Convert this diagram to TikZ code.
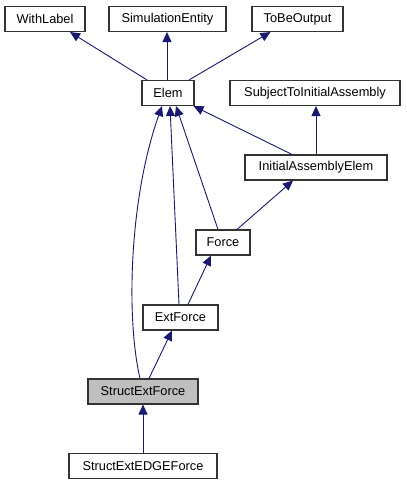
\documentclass[tikz,border=0pt]{standalone}
\usepackage{fontspec}
\setmainfont{Liberation Sans}
\usetikzlibrary{arrows.meta}

\definecolor{midnightblue}{RGB}{25,25,112}
\definecolor{nodegray}{RGB}{191,191,191}

\begin{document}
\begin{tikzpicture}[
  x=1pt, y=-1pt,
  font=\fontsize{12.8}{14}\selectfont,
  % Node styles
  cls/.style={rectangle, draw=black!80, line width=1.1pt, fill=white, minimum height=25pt, inner sep=0pt},
  focus/.style={cls, fill=nodegray},
  % Edge styles
  inherit/.style={draw=midnightblue, line width=0.9pt, -{Triangle[length=10pt, width=9pt, fill=midnightblue]}}
]

\useasboundingbox (0,0) rectangle (407,485);

% ------------------------------------------------------------
% Classes (rows top to bottom)
% ------------------------------------------------------------
\node[cls, minimum width=80pt]  (n_withlabel) at (45,19)    {WithLabel};
\node[cls, minimum width=117pt] (n_simentity) at (167.5,19) {SimulationEntity};
\node[cls, minimum width=91pt]  (n_output)    at (297.5,19) {ToBeOutput};

\node[cls, minimum width=52pt]  (n_elem)      at (168,93)   {Elem};
\node[cls, minimum width=170pt] (n_subject)   at (315,93)   {SubjectToInitialAssembly};

\node[cls, minimum width=142pt] (n_initelem)  at (316,167.5) {InitialAssemblyElem};

\node[cls, minimum width=54pt]  (n_force)     at (223,242.5) {Force};

\node[cls, minimum width=75pt]  (n_extforce)  at (180.5,317.5) {ExtForce};

\node[focus, minimum width=110pt] (n_structext) at (143,391.5) {StructExtForce};

\node[cls, minimum width=148pt] (n_edgeforce) at (143,466)   {StructExtEDGEForce};

% ------------------------------------------------------------
% Inheritance (child -> parent)
% ------------------------------------------------------------
% Elem
\draw[inherit] ([xshift=-21pt]n_elem.north) -- ([xshift=25pt]n_withlabel.south);
\draw[inherit] ([xshift=-1pt]n_elem.north)  -- ([xshift=-0.5pt]n_simentity.south);
\draw[inherit] ([xshift=21pt]n_elem.north)  -- ([xshift=-27pt]n_output.south);

% InitialAssemblyElem
\draw[inherit] ([xshift=-24pt]n_initelem.north) -- ([xshift=-1pt]n_elem.south east);
\draw[inherit] (n_initelem.north) -- ([xshift=1pt]n_subject.south);

% Force
\draw[inherit] ([xshift=-5pt]n_force.north) -- ([xshift=8pt]n_elem.south);
\draw[inherit] ([xshift=14pt]n_force.north) -- ([xshift=-23pt]n_initelem.south);

% ExtForce
\draw[inherit] ([xshift=-1.5pt]n_extforce.north) -- ([xshift=2pt]n_elem.south);
\draw[inherit] ([xshift=7.5pt]n_extforce.north) -- ([xshift=-12pt]n_force.south);

% StructExtForce
\draw[inherit] ([xshift=-3pt]n_structext.north) .. controls +(-14,-60) and +(-33,93) .. ([xshift=-6pt]n_elem.south);
\draw[inherit] ([xshift=6pt]n_structext.north) -- ([xshift=-8.5pt]n_extforce.south);

% StructExtEDGEForce
\draw[inherit] (n_edgeforce.north) -- (n_structext.south);

\end{tikzpicture}
\end{document}
